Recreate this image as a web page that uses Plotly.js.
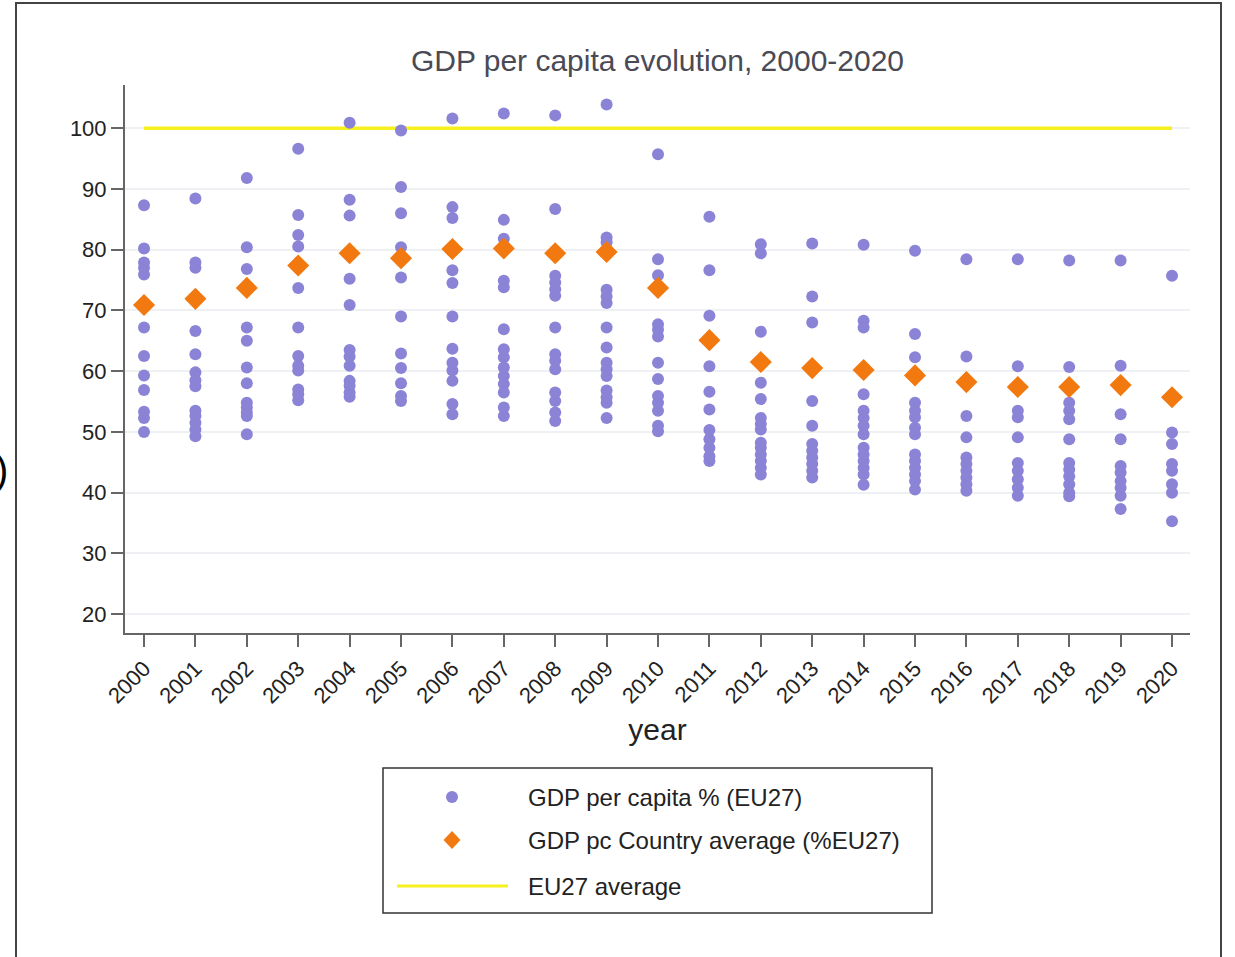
<!DOCTYPE html>
<html>
<head>
<meta charset="utf-8">
<script src="https://cdn.plot.ly/plotly-3.0.1.min.js"></script>
<style>
  html, body { margin: 0; padding: 0; background: #fff; }
  #chart { width: 1235px; height: 957px; }
  #frame { position: absolute; left: 15px; top: 2px; width: 1207px; height: 1000px;
           border: 2px solid #444; box-sizing: border-box; pointer-events: none; }
</style>
</head>
<body>
<div id="chart"></div>
<div id="frame"></div>
<script>
// ---- Data ----
const years = [2000, 2001, 2002, 2003, 2004, 2005, 2006, 2007, 2008, 2009, 2010,
               2011, 2012, 2013, 2014, 2015, 2016, 2017, 2018, 2019, 2020];
const tickLabels = years.map(String);

// GDP per capita % (EU27), one array per year
const v2000 = [87.3, 80.2, 77.9, 77.0, 75.9, 67.2, 62.5, 59.3, 56.9, 53.3, 52.3, 50.0];
const v2001 = [88.4, 77.9, 77.0, 66.6, 62.8, 59.8, 58.5, 57.5, 53.5, 52.6, 51.5, 50.4, 49.3];
const v2002 = [91.8, 80.4, 76.8, 67.2, 65.0, 60.6, 58.0, 54.8, 54.0, 53.2, 52.6, 49.6];
const v2003 = [96.6, 85.7, 82.4, 80.5, 73.7, 67.2, 62.5, 60.9, 60.1, 57.0, 56.2, 55.2];
const v2004 = [100.9, 88.2, 85.6, 75.2, 70.9, 63.5, 62.4, 60.9, 58.4, 57.6, 56.5, 55.8];
const v2005 = [99.6, 90.3, 86.0, 80.4, 75.4, 69.0, 62.9, 60.5, 58.0, 55.9, 55.1];
const v2006 = [101.6, 87.0, 85.2, 76.6, 74.5, 69.0, 63.7, 61.4, 60.1, 58.4, 54.6, 52.9];
const v2007 = [102.4, 84.9, 81.8, 74.9, 73.8, 66.9, 63.6, 62.3, 60.6, 59.2, 57.9, 56.5, 54.0, 52.6];
const v2008 = [102.1, 86.7, 75.7, 74.6, 73.5, 72.4, 67.2, 62.8, 61.7, 60.3, 56.5, 55.1, 53.2, 51.8];
const v2009 = [103.9, 82.0, 81.2, 73.4, 72.3, 71.2, 67.2, 63.9, 61.4, 60.3, 59.2, 56.8, 55.7, 54.8, 52.3];
const v2010 = [95.7, 78.4, 75.8, 67.7, 66.8, 65.7, 61.4, 58.7, 55.9, 54.8, 53.5, 51.0, 50.1];
const v2011 = [85.4, 76.6, 69.1, 60.8, 56.6, 53.7, 50.3, 48.8, 47.4, 46.0, 45.2];
const v2012 = [80.9, 79.4, 66.5, 58.1, 55.4, 52.3, 51.3, 50.4, 48.2, 47.4, 46.3, 45.2, 44.1, 43.0];
const v2013 = [81.0, 72.3, 68.0, 55.1, 51.0, 48.0, 46.9, 45.8, 44.7, 43.6, 42.5];
const v2014 = [80.8, 68.3, 67.2, 56.2, 53.5, 52.3, 51.0, 49.6, 47.4, 46.3, 45.2, 44.1, 43.0, 41.3];
const v2015 = [79.8, 66.1, 62.3, 54.8, 53.5, 52.4, 50.7, 49.6, 46.3, 45.2, 44.1, 43.0, 41.9, 40.5];
const v2016 = [78.4, 62.4, 52.6, 49.1, 45.8, 44.7, 43.6, 42.5, 41.4, 40.3];
const v2017 = [78.4, 60.8, 53.5, 52.4, 49.1, 44.9, 43.6, 42.2, 40.8, 39.5];
const v2018 = [78.2, 60.7, 54.8, 53.5, 52.1, 48.8, 44.9, 43.8, 42.7, 41.4, 40.0, 39.4];
const v2019 = [78.2, 60.9, 52.9, 48.8, 44.4, 43.3, 41.9, 40.8, 39.5, 37.3];
const v2020 = [75.7, 49.9, 48.0, 44.7, 43.6, 41.4, 40.0, 35.3];

// GDP pc Country average (%EU27)
const countryAverage = [70.9, 71.9, 73.7, 77.4, 79.4, 78.6, 80.1, 80.2, 79.4, 79.6, 73.7,
                        65.1, 61.5, 60.5, 60.2, 59.3, 58.2, 57.4, 57.4, 57.7, 55.7];
// EU27 average
const eu27Average = [100, 100, 100, 100, 100, 100, 100, 100, 100, 100, 100,
                     100, 100, 100, 100, 100, 100, 100, 100, 100, 100];

const seriesNames = ['GDP per capita % (EU27)', 'GDP pc Country average (%EU27)', 'EU27 average'];

// ---- Build traces ----
const perYear = [v2000, v2001, v2002, v2003, v2004, v2005, v2006, v2007, v2008, v2009, v2010,
                 v2011, v2012, v2013, v2014, v2015, v2016, v2017, v2018, v2019, v2020];
const px = [], py = [];
perYear.forEach((arr, i) => arr.forEach(v => { px.push(years[i]); py.push(v); }));

const purple = 'rgb(139,132,214)';
const orange = 'rgb(242,121,16)';
const yellow = 'rgb(245,240,30)';
const FONT = '"Liberation Sans", Arial, sans-serif';

const traces = [
  { x: years, y: eu27Average, type: 'scatter', mode: 'lines', name: seriesNames[2],
    line: { color: yellow, width: 3.5 }, showlegend: false, hoverinfo: 'skip' },
  { x: px, y: py, type: 'scatter', mode: 'markers', name: seriesNames[0],
    marker: { color: purple, size: 12, line: { width: 0 } }, showlegend: false },
  { x: years, y: countryAverage, type: 'scatter', mode: 'markers', name: seriesNames[1],
    marker: { color: orange, size: 17, symbol: 'diamond', line: { width: 0 } }, showlegend: false }
];

// pixel -> paper helpers for the legend box (plot area: x 125..1190, y 85..633)
const L = 125, R = 1190, T = 85, B = 633;
const pxX = X => (X - L) / (R - L);
const pxY = Y => (B - Y) / (B - T);

const legendShapes = [
  { type: 'rect', xref: 'paper', yref: 'paper', x0: pxX(383), x1: pxX(932), y0: pxY(768), y1: pxY(913),
    line: { color: '#333', width: 1.5 }, fillcolor: 'rgba(0,0,0,0)' },
  { type: 'circle', xref: 'paper', yref: 'paper', xsizemode: 'pixel', ysizemode: 'pixel',
    xanchor: pxX(452), yanchor: pxY(797), x0: -6, x1: 6, y0: -6, y1: 6,
    fillcolor: purple, line: { width: 0 } },
  { type: 'path', xref: 'paper', yref: 'paper', xsizemode: 'pixel', ysizemode: 'pixel',
    xanchor: pxX(452), yanchor: pxY(840), path: 'M0,9 L8.5,0 L0,-9 L-8.5,0 Z',
    fillcolor: orange, line: { width: 0 } },
  { type: 'line', xref: 'paper', yref: 'paper', x0: pxX(397), x1: pxX(508), y0: pxY(886), y1: pxY(886),
    line: { color: yellow, width: 3 } }
];

const legendTexts = [
  [seriesNames[0], 797], [seriesNames[1], 840], [seriesNames[2], 886]
].map(([t, Y]) => ({
  text: t, xref: 'paper', yref: 'paper', x: pxX(526), y: pxY(Y), xanchor: 'left', yanchor: 'middle',
  showarrow: false, font: { family: FONT, size: 24, color: '#222' }
}));

const layout = {
  width: 1235, height: 957,
  margin: { l: L, r: 1235 - R, t: T, b: 957 - B },
  paper_bgcolor: '#fff', plot_bgcolor: '#fff',
  font: { family: FONT, color: '#222' },
  title: { text: 'GDP per capita evolution, 2000-2020', xref: 'paper', x: 0.5, xanchor: 'center',
           yref: 'container', y: 1 - 60 / 957, yanchor: 'middle',
           font: { family: FONT, size: 30, color: '#4a4a55' } },
  xaxis: {
    range: [1999.63, 2020.35], tickmode: 'array', tickvals: years, ticktext: tickLabels,
    tickangle: -45, ticks: 'outside', ticklen: 12, tickwidth: 2, tickcolor: '#666',
    showline: true, linecolor: '#666', linewidth: 2, showgrid: false, zeroline: false,
    tickfont: { family: FONT, size: 22, color: '#222' },
    title: { text: 'year', font: { family: FONT, size: 30, color: '#222' }, standoff: 12 }
  },
  yaxis: {
    range: [16.9, 107.1], tickmode: 'array', tickvals: [20, 30, 40, 50, 60, 70, 80, 90, 100],
    ticks: 'outside', ticklen: 12, tickwidth: 2, tickcolor: '#666',
    showline: true, linecolor: '#666', linewidth: 2,
    showgrid: true, gridcolor: '#eef0f4', gridwidth: 2, zeroline: false,
    tickfont: { family: FONT, size: 22, color: '#222' }
  },
  showlegend: false,
  shapes: legendShapes,
  annotations: legendTexts.concat([
    { text: ')', xref: 'paper', yref: 'paper', x: pxX(10), y: pxY(470), xanchor: 'right', yanchor: 'middle',
      showarrow: false, font: { family: FONT, size: 40, color: '#000' } }
  ])
};

Plotly.newPlot('chart', traces, layout, { displayModeBar: false, staticPlot: true });
</script>
</body>
</html>
